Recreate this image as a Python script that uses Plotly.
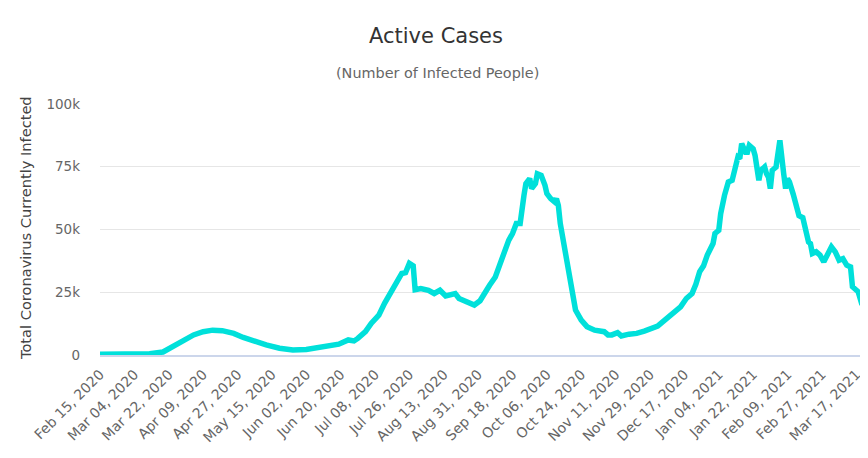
import plotly.graph_objects as go

dates = [
    "2020-02-15", "2020-02-25", "2020-03-05", "2020-03-12", "2020-03-19", "2020-03-24",
    "2020-03-29", "2020-04-04", "2020-04-09", "2020-04-14", "2020-04-19", "2020-04-25",
    "2020-04-30", "2020-05-05", "2020-05-12", "2020-05-19", "2020-05-26", "2020-06-02",
    "2020-06-12", "2020-06-19", "2020-06-24", "2020-06-27", "2020-06-29", "2020-07-03",
    "2020-07-06", "2020-07-10", "2020-07-13", "2020-07-17", "2020-07-20", "2020-07-22",
    "2020-07-24", "2020-07-26", "2020-07-28", "2020-07-29", "2020-08-01", "2020-08-05",
    "2020-08-08", "2020-08-11", "2020-08-14", "2020-08-19", "2020-08-21", "2020-08-26",
    "2020-08-29", "2020-09-01", "2020-09-03", "2020-09-06", "2020-09-09", "2020-09-12",
    "2020-09-14", "2020-09-16", "2020-09-18", "2020-09-20", "2020-09-22", "2020-09-23",
    "2020-09-24", "2020-09-25", "2020-09-27", "2020-09-28", "2020-09-30", "2020-10-01",
    "2020-10-03", "2020-10-05", "2020-10-06", "2020-10-08", "2020-10-10", "2020-10-11",
    "2020-10-12", "2020-10-13", "2020-10-15", "2020-10-17", "2020-10-18", "2020-10-19",
    "2020-10-21", "2020-10-24", "2020-10-27", "2020-10-31", "2020-11-03", "2020-11-05",
    "2020-11-07", "2020-11-09", "2020-11-12", "2020-11-14", "2020-11-18", "2020-11-22",
    "2020-11-26", "2020-11-29", "2020-12-03", "2020-12-05", "2020-12-09", "2020-12-12",
    "2020-12-15", "2020-12-18", "2020-12-21", "2020-12-23", "2020-12-25", "2020-12-27",
    "2020-12-29", "2021-01-01", "2021-01-02", "2021-01-04", "2021-01-05", "2021-01-07",
    "2021-01-08", "2021-01-09", "2021-01-11", "2021-01-13", "2021-01-14", "2021-01-15",
    "2021-01-16", "2021-01-18", "2021-01-19", "2021-01-20", "2021-01-22", "2021-01-23",
    "2021-01-25", "2021-01-26", "2021-01-28", "2021-01-29", "2021-01-30", "2021-01-31",
    "2021-02-01", "2021-02-03", "2021-02-04", "2021-02-05", "2021-02-07", "2021-02-08",
    "2021-02-09", "2021-02-10", "2021-02-12", "2021-02-13", "2021-02-14", "2021-02-15",
    "2021-02-17", "2021-02-19", "2021-02-20", "2021-02-21", "2021-02-22", "2021-02-24",
    "2021-02-26", "2021-02-28", "2021-03-02", "2021-03-04", "2021-03-06", "2021-03-08",
    "2021-03-10", "2021-03-12", "2021-03-14", "2021-03-15", "2021-03-18", "2021-03-20",
]

active = [
    300, 300, 400, 500, 1200, 3300,
    5300, 8000, 9300, 9900, 9700, 8600,
    7000, 5600, 4000, 2700, 2000, 2200,
    3400, 4300, 6000, 5600, 6600, 9300,
    12600, 15900, 20600, 25800, 29800, 32500,
    32800, 36500, 35500, 26000, 26500, 25800,
    24500, 25800, 23500, 24500, 22500, 21200,
    19900, 21600, 24500, 27800, 31100, 37800,
    41100, 45700, 48400, 52400, 52400, 60300,
    63600, 68300, 70300, 66300, 68300, 72200,
    71600, 67600, 64300, 62300, 61000, 62300,
    59600, 52400, 43100, 35100, 32500, 24500,
    17900, 13900, 11300, 9900, 9300, 9300,
    8000, 8000, 8900, 7600, 8300, 8600,
    9500, 10200, 11500, 12800, 15200, 17200,
    19200, 22500, 24500, 28200, 33200, 35500,
    39800, 44400, 48400, 49700, 56300, 63600,
    65600, 68900, 69600, 77500, 78800, 78200,
    84200, 80800, 80800, 83500, 82200, 79500,
    69600, 73600, 74900, 72200, 70900, 66300,
    73600, 74900, 81500, 85500, 72200, 66300,
    70300, 69000, 64000, 61500, 59500, 55500,
    54700, 49000, 45000, 44400, 40400, 41100,
    39800, 37100, 40400, 43100, 41100, 37800,
    38400, 35800, 35100, 27200, 25200, 20000,
]

y_ticks = [0, 25000, 50000, 75000, 100000]
y_tick_labels = ["0", "25k", "50k", "75k", "100k"]

FONT = "DejaVu Sans"
LINE_COLOR = "#00E0DA"

fig = go.Figure()
fig.add_trace(go.Scatter(
    x=dates, y=active, mode="lines", name="Currently Infected",
    line=dict(color=LINE_COLOR, width=5.5),
    hoverinfo="x+y",
))

# the page places the figure 8px from the top-left corner (body margin)
fig.update_layout(
    width=860, height=442,
    margin=dict(l=92, r=6, t=96, b=95, autoexpand=False),
    paper_bgcolor="white", plot_bgcolor="white",
    showlegend=False,
    font=dict(family=FONT, color="#666666"),
    xaxis=dict(
        type="date",
        range=["2020-02-15", "2021-03-20"],
        tick0="2020-02-15",
        dtick=18 * 86400000,
        tickformat="%b %d, %Y",
        tickangle=-45,
        tickfont=dict(family=FONT, size=14, color="#666666"),
        showgrid=False,
        showline=True, linecolor="#ccd6eb", linewidth=1.5,
        ticks="", zeroline=False, automargin=False,
        ticklabelstandoff=4,
    ),
    yaxis=dict(
        range=[0, 100000],
        tickvals=y_ticks, ticktext=y_tick_labels,
        tickfont=dict(family=FONT, size=13.5, color="#666666"),
        showgrid=True, gridcolor="#e6e6e6", gridwidth=1,
        zeroline=False, showline=False, ticks="",
        ticklabelstandoff=19, automargin=False,
    ),
    annotations=[
        dict(text="Active Cases", xref="paper", yref="paper",
             x=(436 - 100) / 762, y=(355 - 36) / 251,
             xanchor="center", yanchor="middle", showarrow=False,
             font=dict(family=FONT, size=21, color="#333333")),
        dict(text="(Number of Infected People)", xref="paper", yref="paper",
             x=(437 - 100) / 762, y=(355 - 73) / 251,
             xanchor="center", yanchor="middle", showarrow=False,
             font=dict(family=FONT, size=14.4, color="#666666")),
        dict(text="Total Coronavirus Currently Infected", xref="paper", yref="paper",
             x=(25 - 100) / 762, y=(355 - 228) / 251, textangle=-90,
             xanchor="center", yanchor="middle", showarrow=False,
             font=dict(family=FONT, size=14.6, color="#444444")),
    ],
)

fig.write_html("out.html")
